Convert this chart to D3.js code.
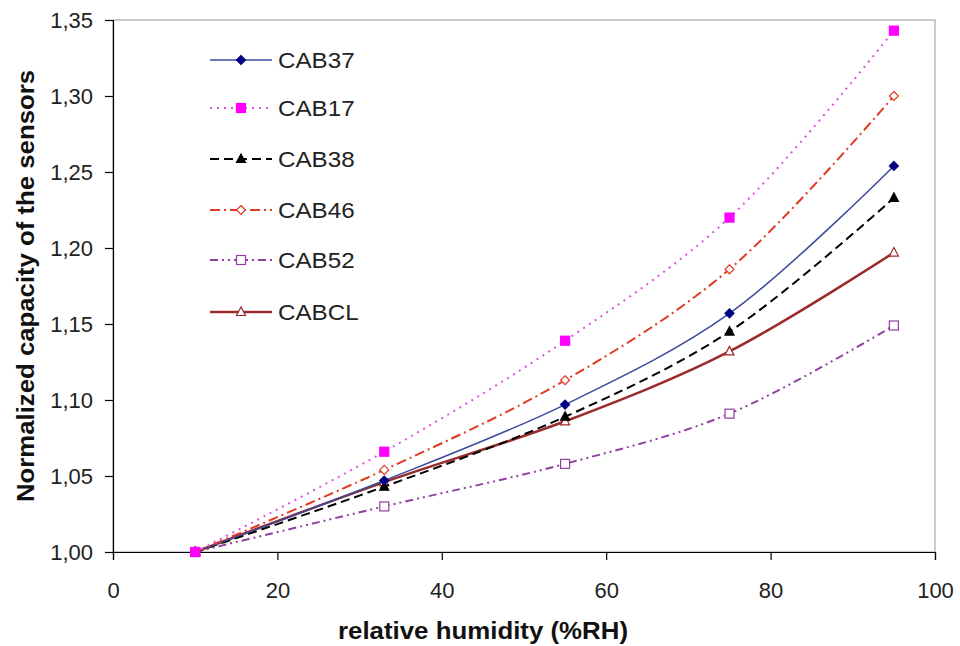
<!DOCTYPE html>
<html><head><meta charset="utf-8">
<script src="https://cdn.jsdelivr.net/npm/d3@7"></script>
<style>body{margin:0;background:#fff}</style>
</head><body><svg id="c" width="960" height="646"></svg>
<script>
const humidity = [10, 33, 55, 75, 95];
const seriesNames = ["CAB37", "CAB17", "CAB38", "CAB46", "CAB52", "CABCL"];
const cab37 = [1.000, 1.047, 1.097, 1.157, 1.254];
const cab17 = [1.000, 1.066, 1.139, 1.220, 1.343];
const cab38 = [1.000, 1.043, 1.089, 1.145, 1.233];
const cab46 = [1.000, 1.054, 1.113, 1.186, 1.300];
const cab52 = [1.000, 1.030, 1.058, 1.091, 1.149];
const cabcl = [1.000, 1.046, 1.086, 1.132, 1.197];
const xTicks = [0, 20, 40, 60, 80, 100];
const yTicks = [1.00, 1.05, 1.10, 1.15, 1.20, 1.25, 1.30, 1.35];

const values = [cab37, cab17, cab38, cab46, cab52, cabcl];
const styles = [
  {line:"#3b4a9c", w:1.5, dash:null, marker:"diamond", fill:"#000080", stroke:"#000080"},
  {line:"#e050e0", w:2, dash:"2,5", marker:"square", fill:"#ff00ff", stroke:"#ff00ff"},
  {line:"#000000", w:2, dash:"9,5", marker:"triangle", fill:"#000000", stroke:"#000000"},
  {line:"#e03a20", w:2, dash:"10,4,2,4", marker:"diamond", fill:"#fff", stroke:"#e03a20"},
  {line:"#9040a0", w:2, dash:"8,4,2,4,2,4", marker:"square", fill:"#fff", stroke:"#9040a0"},
  {line:"#9b2a2a", w:2.5, dash:null, marker:"triangle", fill:"#fff", stroke:"#9b2a2a"}
];

const svg = d3.select("#c");
const x = d3.scaleLinear().domain([0,100]).range([113,935]);
const y = d3.scaleLinear().domain([1.00,1.35]).range([552,20]);
const font = "Liberation Sans, Arial, sans-serif";

// frame
svg.append("rect").attr("x",113).attr("y",20).attr("width",822).attr("height",532)
  .attr("fill","none").attr("stroke","#999").attr("stroke-width",1);

const xa = svg.append("g").attr("transform","translate(0,552)")
  .call(d3.axisBottom(x).tickValues(xTicks).tickSize(8).tickPadding(22).tickFormat(d3.format("d")));
const ya = svg.append("g").attr("transform","translate(113,0)")
  .call(d3.axisLeft(y).tickValues(yTicks).tickSize(8).tickPadding(12).tickFormat(d=>d.toFixed(2).replace(".",",")));
[xa,ya].forEach(a=>{
  a.selectAll("path,line").attr("stroke","#000").attr("stroke-width",1.2);
  a.selectAll("text").attr("font-family",font).attr("font-size",22).attr("fill","#222");
});

const line = d3.line().x((d,i)=>x(humidity[i])).y(d=>y(d)).curve(d3.curveCatmullRom.alpha(0.5));

function marker(g, type, cx, cy, st){
  let s = 4.5;
  if(type==="diamond"){
    g.append("path").attr("d",`M${cx},${cy-s}L${cx+s},${cy}L${cx},${cy+s}L${cx-s},${cy}Z`)
      .attr("fill",st.fill).attr("stroke",st.stroke).attr("stroke-width",1.2);
  } else if(type==="square"){
    g.append("rect").attr("x",cx-s).attr("y",cy-s).attr("width",2*s).attr("height",2*s)
      .attr("fill",st.fill).attr("stroke",st.stroke).attr("stroke-width",1.2);
  } else {
    g.append("path").attr("d",`M${cx},${cy-s-0.5}L${cx+s},${cy+s-1}L${cx-s},${cy+s-1}Z`)
      .attr("fill",st.fill).attr("stroke",st.stroke).attr("stroke-width",1.2);
  }
}

const order = [4,5,2,0,3,1];
order.forEach(k=>{
  const st = styles[k];
  const g = svg.append("g");
  g.append("path").datum(values[k]).attr("d",line).attr("fill","none")
    .attr("stroke",st.line).attr("stroke-width",st.w).attr("stroke-dasharray",st.dash);
  values[k].forEach((v,i)=>marker(g, st.marker, x(humidity[i]), y(v), st));
});

// legend
const legY = [60,108,159,210,260,312];
seriesNames.forEach((n,k)=>{
  const st = styles[k];
  const g = svg.append("g");
  g.append("line").attr("x1",210).attr("x2",272).attr("y1",legY[k]).attr("y2",legY[k])
    .attr("stroke",st.line).attr("stroke-width",st.w).attr("stroke-dasharray",st.dash);
  marker(g, st.marker, 241, legY[k], st);
  const t = g.append("text").attr("x",278).attr("y",legY[k]+8).text(n)
    .attr("font-family",font).attr("font-size",22).attr("fill","#222");
  const len = t.node().getComputedTextLength();
  t.attr("textLength", len*1.1).attr("lengthAdjust","spacingAndGlyphs");
});

svg.append("text").attr("x",483).attr("y",639).attr("text-anchor","middle")
  .attr("font-family",font).attr("font-weight","bold").attr("font-size",23).attr("fill","#111")
  .attr("textLength",290).attr("lengthAdjust","spacingAndGlyphs")
  .text("relative humidity (%RH)");
svg.append("text").attr("transform","translate(34,286) rotate(-90)").attr("text-anchor","middle")
  .attr("font-family",font).attr("font-weight","bold").attr("font-size",23).attr("fill","#111")
  .attr("textLength",432).attr("lengthAdjust","spacingAndGlyphs")
  .text("Normalized capacity of the sensors");
</script></body></html>
